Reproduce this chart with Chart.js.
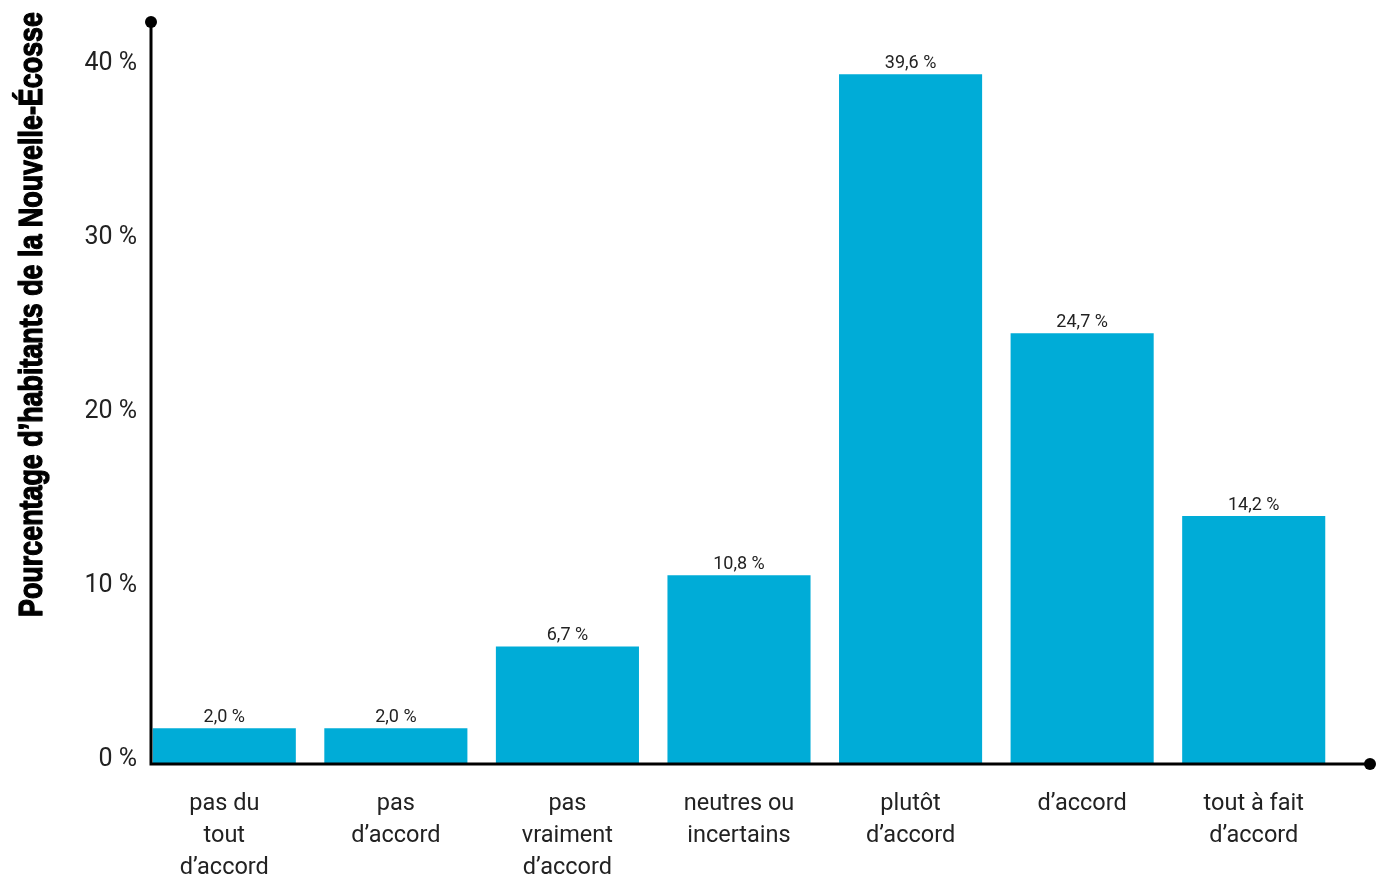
<!DOCTYPE html>
<html>
<head>
<meta charset="utf-8">
<script src="https://cdn.jsdelivr.net/npm/chart.js@4.4.0/dist/chart.umd.min.js"></script>
<style>
  html, body { margin: 0; padding: 0; background: #fff; }
  #wrap { width: 1377px; height: 875px; }
</style>
</head>
<body>
<div id="wrap"><canvas id="myChart" width="1377" height="875"></canvas></div>
<script>
// categories (multi-line labels)
var categories = [
  ["pas du", "tout", "d\u2019accord"],
  ["pas", "d\u2019accord"],
  ["pas", "vraiment", "d\u2019accord"],
  ["neutres ou", "incertains"],
  ["plut\u00f4t", "d\u2019accord"],
  ["d\u2019accord"],
  ["tout \u00e0 fait", "d\u2019accord"]
];
var values = [2.0, 2.0, 6.7, 10.8, 39.6, 24.7, 14.2];
var yTicks = [0, 10, 20, 30, 40];
var yTitle = "Pourcentage d\u2019habitants de la Nouvelle-\u00c9cosse";

var fmt = function (v) { return v.toFixed(1).replace(".", ",") + " %"; };

// axis lines with end dots, value labels, rotated title
var decor = {
  id: "decor",
  afterDraw: function (chart) {
    var ctx = chart.ctx;
    var area = chart.chartArea;
    var y0 = chart.scales.y.getPixelForValue(0);
    ctx.save();
    ctx.strokeStyle = "#000";
    ctx.fillStyle = "#000";
    ctx.lineWidth = 3;
    ctx.beginPath();
    ctx.moveTo(151, area.top);
    ctx.lineTo(151, y0 + 1);
    ctx.lineTo(1370, y0 + 1);
    ctx.stroke();
    ctx.beginPath();
    ctx.arc(151, area.top, 6, 0, Math.PI * 2);
    ctx.fill();
    ctx.beginPath();
    ctx.arc(1370, y0 + 1, 6, 0, Math.PI * 2);
    ctx.fill();

    // value labels
    ctx.fillStyle = "#222";
    ctx.font = "18px Roboto";
    ctx.textAlign = "center";
    ctx.textBaseline = "alphabetic";
    chart.getDatasetMeta(0).data.forEach(function (bar, i) {
      ctx.fillText(fmt(values[i]), bar.x, bar.y - 6);
    });

    // y title, condensed to fit
    ctx.translate(42, 314.5);
    ctx.rotate(-Math.PI / 2);
    ctx.fillStyle = "#000";
    ctx.strokeStyle = "#000";
    ctx.lineWidth = 1.3;
    ctx.lineJoin = "round";
    ctx.font = "bold 34px 'Liberation Sans', Arial, sans-serif";
    ctx.textAlign = "center";
    ctx.textBaseline = "alphabetic";
    var w = ctx.measureText(yTitle).width;
    ctx.scale(605 / w, 1);
    ctx.fillText(yTitle, 0, 0);
    ctx.strokeText(yTitle, 0, 0);
    ctx.restore();
  }
};

var ctx = document.getElementById("myChart").getContext("2d");
var chart = new Chart(ctx, {
  type: "bar",
  data: {
    labels: categories,
    datasets: [
      {
        data: values,
        backgroundColor: "#00ACD7",
        borderWidth: 0,
        categoryPercentage: 1,
        barPercentage: 0.834
      }
    ]
  },
  options: {
    responsive: false,
    animation: false,
    events: [],
    layout: { padding: { left: 0, right: 37.5, top: 22, bottom: 0 } },
    plugins: {
      legend: { display: false },
      tooltip: { enabled: false }
    },
    scales: {
      x: {
        grid: { display: false, drawTicks: false },
        border: { display: false },
        ticks: {
          color: "#222",
          padding: 25,
          maxRotation: 0,
          autoSkip: false,
          font: { family: "Roboto", size: 23.5, lineHeight: 1.36 }
        },
        afterFit: function (s) { s.height = 112; }
      },
      y: {
        min: 0,
        max: 42.6,
        grid: { display: false, drawTicks: false },
        border: { display: false },
        afterBuildTicks: function (s) {
          s.ticks = yTicks.map(function (v) { return { value: v }; });
        },
        ticks: {
          color: "#222",
          padding: 1.5,
          labelOffset: -3,
          font: { family: "Roboto", size: 25 },
          callback: function (v) { return v + " %"; }
        },
        afterFit: function (s) { s.width = 138.5; }
      }
    }
  },
  plugins: [decor]
});
</script>
</body>
</html>
